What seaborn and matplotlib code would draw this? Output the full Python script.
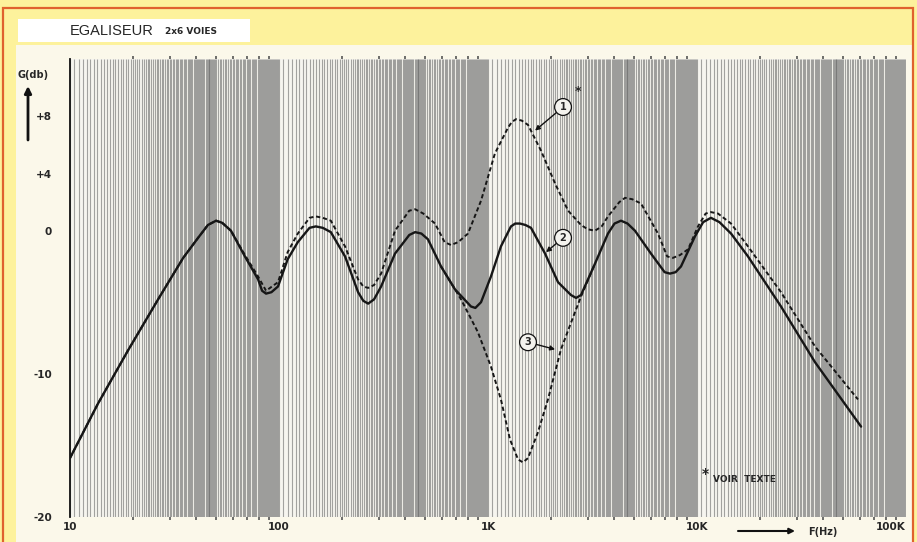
import numpy as np
import matplotlib
matplotlib.use('Agg')
import matplotlib.pyplot as plt
import seaborn as sns
from matplotlib.patches import Rectangle
from matplotlib.ticker import FixedLocator, NullFormatter

# curve 2 (solid): all sliders flat
freq_2 = [10, 13.6, 18.9, 26.4, 34.8, 41, 45.7, 50, 53.5, 58.9,
          68.7, 79.4, 83, 86.7, 92, 98.9, 110, 123, 140, 150,
          162, 177, 207, 239, 253, 267, 285, 308, 359, 420,
          448, 480, 516, 596, 695, 829, 870, 926, 1033, 1153,
          1288, 1350, 1422, 1510, 1606, 1875, 2163, 2495, 2640, 2786,
          3251, 3750, 4030, 4328, 4650, 5048, 6023, 7000, 7426, 7900,
          8383, 9775, 10700, 11660, 12800, 14550, 17540, 25230, 36720, 60970]
gain_2 = [-15.9, -12.1, -8.4, -4.8, -1.9, -0.5, 0.4, 0.7, 0.55, 0.0,
          -1.8, -3.4, -4.2, -4.4, -4.3, -3.9, -2.0, -0.8, 0.2, 0.3,
          0.2, -0.1, -1.8, -4.3, -4.9, -5.1, -4.8, -3.9, -1.6, -0.3,
          -0.1, -0.2, -0.6, -2.5, -4.1, -5.3, -5.4, -5.0, -3.2, -1.1,
          0.3, 0.5, 0.5, 0.4, 0.2, -1.6, -3.6, -4.5, -4.7, -4.5,
          -2.3, -0.2, 0.5, 0.7, 0.5, 0.0, -1.6, -2.9, -3.0, -2.9,
          -2.5, -0.4, 0.6, 0.9, 0.6, -0.2, -1.8, -5.3, -9.2, -13.7]

# curve 1 (dashed): 1.4 kHz boosted
freq_1 = [10, 13.6, 18.9, 26.4, 34.8, 41, 45.7, 50, 53.5, 58.9,
          68.7, 79.4, 86.7, 98.9, 110, 123, 140, 150, 162, 177,
          207, 239, 253, 267, 285, 308, 359, 420, 448, 490,
          558, 620, 665, 720, 802, 926, 1079, 1246, 1300, 1362,
          1450, 1554, 1793, 2094, 2417, 2786, 3000, 3251, 3500, 3750,
          4250, 4529, 4900, 5399, 6504, 7200, 7671, 8300, 9061, 10110,
          11000, 11660, 12600, 14550, 17540, 25230, 36720, 58910]
gain_1 = [-15.9, -12.1, -8.4, -4.8, -1.9, -0.5, 0.4, 0.7, 0.55, 0.0,
          -1.7, -3.2, -4.2, -3.6, -1.5, -0.2, 0.9, 1.0, 0.9, 0.7,
          -1.1, -3.4, -3.9, -4.0, -3.8, -3.0, 0.0, 1.4, 1.5, 1.2,
          0.5, -0.8, -1.0, -0.8, -0.2, 2.1, 5.4, 7.2, 7.6, 7.8,
          7.7, 7.4, 5.6, 3.3, 1.4, 0.4, 0.1, 0.0, 0.3, 1.0,
          2.0, 2.3, 2.2, 1.9, -0.2, -1.8, -1.9, -1.7, -1.3, 0.3,
          1.2, 1.3, 1.2, 0.5, -1.1, -4.3, -8.1, -11.8]

# curve 3 (dashed): 1.4 kHz cut, only where it leaves curve 2
freq_3 = [596, 695, 743, 895, 1033, 1153, 1274, 1393, 1470, 1554,
          1733, 1936, 2234, 2607, 2786, 3251]
gain_3 = [-2.5, -4.1, -4.8, -7.1, -9.5, -11.8, -14.6, -16.0, -16.2, -15.9,
          -14.1, -11.8, -8.3, -5.7, -4.6, -2.3]

x_ticks = [10, 100, 1000, 10000, 100000]
x_labels = ['10', '100', '1K', '10K', '100K']
y_ticks = [-20, -10, 0, 4, 8]
y_labels = ['-20', '-10', '0', '+4', '+8']

W, H = 917, 542


def fx(x):
    return x / W


def fy(y):
    return 1 - y / H


sns.set_style('white')
plt.rcParams['font.family'] = ['DejaVu Sans']

fig = plt.figure(figsize=(9.17, 5.42), dpi=100)
fig.patch.set_facecolor('#fdf29c')

# page frame: cream panel, orange border, white title box
fig.add_artist(Rectangle((fx(16), 0), fx(896), fy(45), transform=fig.transFigure,
                         fc='#fbf8ea', ec='none', zorder=-3))
fig.add_artist(Rectangle((fx(3), -0.01), fx(910), fy(8) + 0.01, transform=fig.transFigure,
                         fc='none', ec='#e0622e', lw=1.6, zorder=-2))
fig.add_artist(Rectangle((fx(18), fy(42)), fx(232), 23 / H, transform=fig.transFigure,
                         fc='white', ec='none', zorder=-2))

ax = fig.add_axes([fx(70), fy(516.7), fx(836), 457.6 / H])
ax.set_facecolor('#f6f5ef')
ax.set_xscale('log')
ax.set_xlim(10, 1e5)
ax.set_ylim(-20, 12)

# log paper background: sparse just after each decade, dense bands further on
paper = []
for k in range(1, 5):
    base = 10 ** k
    paper += list(np.arange(1, 2, 0.05) * base)
    paper += list(np.arange(2, 3, 0.05) * base)
    paper += list(np.arange(3, 5, 0.05) * base)
    paper += list(np.arange(5, 10, 0.1) * base)
ax.vlines(paper, -20, 12, colors='#5e5e5e', alpha=0.55, lw=0.8, zorder=0)

sns.lineplot(x=freq_2, y=gain_2, ax=ax, color='#161616', lw=1.7,
             estimator=None, sort=False, zorder=3)
sns.lineplot(x=freq_1, y=gain_1, ax=ax, color='#161616', lw=1.4,
             linestyle=(0, (2.2, 1.4)), estimator=None, sort=False, zorder=4)
sns.lineplot(x=freq_3, y=gain_3, ax=ax, color='#161616', lw=1.4,
             linestyle=(0, (2.2, 1.4)), estimator=None, sort=False, zorder=4)

for s in ['top', 'right', 'bottom']:
    ax.spines[s].set_visible(False)
ax.spines['left'].set_color('#111111')
ax.spines['left'].set_linewidth(1.3)
ax.spines['left'].set_bounds(-20, 12)

ax.set_xticks(x_ticks, x_labels)
minor_x = [d * 10 ** k for k in range(1, 5) for d in range(2, 10)]
ax.xaxis.set_minor_locator(FixedLocator(minor_x))
ax.xaxis.set_minor_formatter(NullFormatter())
ax.tick_params(axis='x', which='major', length=0, pad=4, labelsize=7.5, top=False)
ax.tick_params(axis='x', which='minor', length=2, width=1.2, color='#555555',
               direction='out', top=True, bottom=True)
ax.get_xticklabels()[-1].set_horizontalalignment('right')

ax.set_yticks(y_ticks, y_labels)
ax.yaxis.set_minor_locator(FixedLocator(list(range(-20, 10, 2))))
ax.tick_params(axis='y', which='both', direction='inout', length=8, width=1.1,
               color='#111111', pad=9, labelsize=7.5)
for lab in ax.get_xticklabels() + ax.get_yticklabels():
    lab.set_fontweight('bold')
ax.set_xlabel('')
ax.set_ylabel('')

# annotations
circ = dict(boxstyle='circle,pad=0.35', fc='#f4f3ee', ec='#111111', lw=0.9)
arr = dict(arrowstyle='-|>', color='#111111', lw=1.0, mutation_scale=7, shrinkA=0, shrinkB=0)
ax.annotate('1', xy=(1679, 7.0), xytext=(2286, 8.65), ha='center', va='center',
            fontsize=7, fontweight='bold', bbox=circ, arrowprops=arr, zorder=6)
ax.annotate('2', xy=(1896, -1.5), xytext=(2286, -0.5), ha='center', va='center',
            fontsize=7, fontweight='bold', bbox=circ, arrowprops=arr, zorder=6)
ax.annotate('3', xy=(2094, -8.3), xytext=(1554, -7.8), ha='center', va='center',
            fontsize=7, fontweight='bold', bbox=circ, arrowprops=arr, zorder=6)
ax.text(2698, 9.7, '*', fontsize=9, fontweight='bold', ha='center', va='center', zorder=6)
ax.text(10910, -17.0, '*', fontsize=10, fontweight='bold', ha='center', va='center', zorder=6)
ax.text(11940, -17.4, 'VOIR  TEXTE', fontsize=6.5, fontweight='bold', ha='left', va='center', zorder=6)

# title and axis names
fig.text(fx(70), fy(31), 'EGALISEUR', fontsize=10.5, ha='left', va='center',
         family=['Liberation Sans', 'DejaVu Sans'])
fig.text(fx(165), fy(32), '2x6 VOIES', fontsize=6.5, fontweight='bold', ha='left', va='center')
fig.text(fx(18), fy(75), 'G(db)', fontsize=7, fontweight='bold', ha='left', va='center')
fig.text(fx(808), fy(532), 'F(Hz)', fontsize=7, fontweight='bold', ha='left', va='center')
big_arrow = dict(arrowstyle='-|>', color='#111111', lw=2.0, mutation_scale=10, shrinkA=0, shrinkB=0)
ax.annotate('', xy=(fx(28), fy(86)), xytext=(fx(28), fy(140)), xycoords='figure fraction',
            textcoords='figure fraction', arrowprops=big_arrow)
ax.annotate('', xy=(fx(795), fy(531)), xytext=(fx(738), fy(531)), xycoords='figure fraction',
            textcoords='figure fraction', arrowprops=dict(big_arrow, lw=1.5, mutation_scale=8))

fig.savefig('out.png', dpi=100, facecolor=fig.get_facecolor())
